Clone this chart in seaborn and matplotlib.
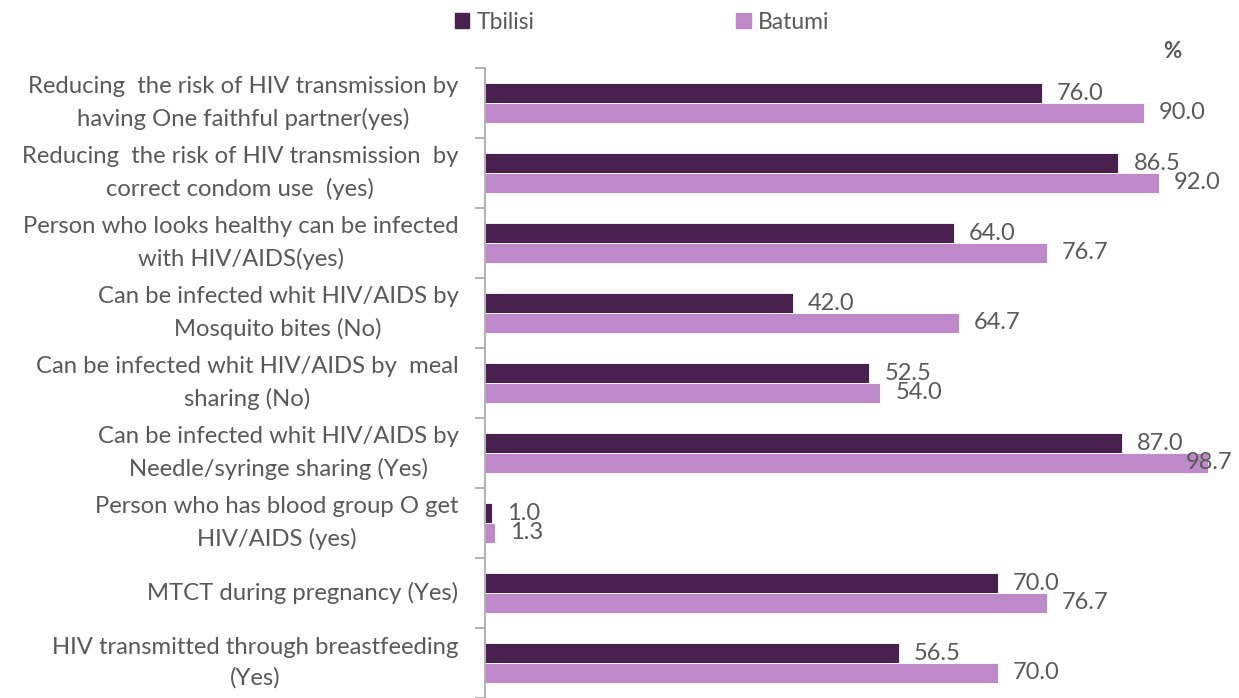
import numpy as np
import pandas as pd
import matplotlib
matplotlib.use("Agg")
import matplotlib.pyplot as plt
import seaborn as sns

categorias = [
    "Reducing  the risk of HIV transmission by\nhaving One faithful partner(yes)",
    "Reducing  the risk of HIV transmission  by\ncorrect condom use  (yes)",
    "Person who looks healthy can be infected\nwith HIV/AIDS(yes)",
    "Can be infected whit HIV/AIDS by\nMosquito bites (No)",
    "Can be infected whit HIV/AIDS by  meal\nsharing (No)",
    "Can be infected whit HIV/AIDS by\nNeedle/syringe sharing (Yes)",
    "Person who has blood group O get\nHIV/AIDS (yes)",
    "MTCT during pregnancy (Yes)",
    "HIV transmitted through breastfeeding\n(Yes)",
]
tbilisi = [76.0, 86.5, 64.0, 42.0, 52.5, 87.0, 1.0, 70.0, 56.5]
batumi = [90.0, 92.0, 76.7, 64.7, 54.0, 98.7, 1.3, 76.7, 70.0]
ciudades = ["Tbilisi", "Batumi"]
colores = ["#48214F", "#BD89C8"]

df = pd.DataFrame({
    "cat": categorias * 2,
    "valor": tbilisi + batumi,
    "ciudad": ["Tbilisi"] * len(tbilisi) + ["Batumi"] * len(batumi),
})

sns.set_style("white")
plt.rcParams["font.family"] = ["Lato", "DejaVu Sans"]
gris = "#595959"

fig = plt.figure(figsize=(12.39, 6.98), dpi=100)
ax = fig.add_axes([485 / 1239, 0.0, (1232 - 485) / 1239, 1 - 68 / 698])

sns.barplot(data=df, y="cat", x="valor", hue="ciudad", order=categorias,
            hue_order=ciudades, palette=colores, width=0.57, orient="h",
            edgecolor="white", linewidth=0.6, saturation=1, ax=ax, legend=False)

ax.set_xlim(0, 102)
ax.set_ylim(len(categorias) - 0.5, -0.5)
ax.set_xlabel("")
ax.set_ylabel("")
ax.set_xticks([])
for s in ["top", "right", "bottom"]:
    ax.spines[s].set_visible(False)
ax.spines["left"].set_color("#A6A6A6")
ax.spines["left"].set_linewidth(1.2)

ax.set_yticks(range(len(categorias)))
ax.set_yticklabels(categorias, fontsize=17.2, color=gris, multialignment="center",
                   linespacing=1.55, va="center")
ax.tick_params(axis="y", which="major", left=False, length=0, pad=19)
ax.set_yticks(np.arange(-0.5, len(categorias), 1), minor=True)
ax.tick_params(axis="y", which="minor", left=True, length=7, width=1.2,
               color="#A6A6A6")

# etiquetas de valor
xmax = ax.get_xlim()[1]
for cont in ax.containers:
    for p in cont:
        w = p.get_width()
        yc = p.get_y() + p.get_height() / 2
        if w > 95:
            ax.text(xmax, yc, f"{w:.1f}", ha="right", va="center",
                    fontsize=17, color=gris, clip_on=False)
        else:
            ax.annotate(f"{w:.1f}", (w, yc), xytext=(15, 0),
                        textcoords="offset pixels",
                        ha="left", va="center", fontsize=17, color=gris)

handles = [plt.Rectangle((0, 0), 1, 1, color=c) for c in colores]
fig.legend(handles, ciudades, loc="center", bbox_to_anchor=(0.518, 0.968),
           ncol=2, frameon=False, fontsize=16.5, labelcolor=gris,
           handlelength=0.65, handleheight=0.65, handletextpad=0.3,
           columnspacing=8.8)

fig.text(1172 / 1239, 1 - 52 / 698, "%", fontsize=16, fontweight="bold",
         color=gris, ha="center", va="center")

fig.savefig("out.png", dpi=100)
